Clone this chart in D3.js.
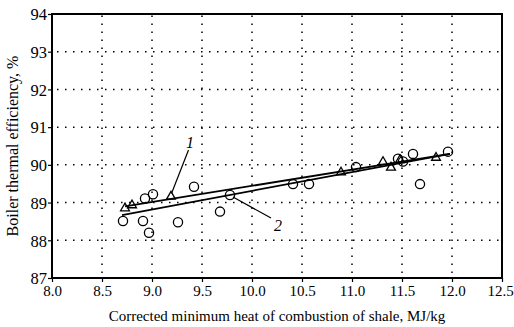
<!DOCTYPE html>
<html><head><meta charset="utf-8">
<script src="https://cdn.jsdelivr.net/npm/d3@7"></script>
<style>body{margin:0;background:#fff}svg{display:block}
svg text{font-family:"Liberation Serif","Times New Roman","DejaVu Serif",serif;}</style>
</head><body>
<svg id="c" width="514" height="327"></svg>
<script>
const xTicks = [8.0, 8.5, 9.0, 9.5, 10.0, 10.5, 11.0, 11.5, 12.0, 12.5];
const yTicks = [87, 88, 89, 90, 91, 92, 93, 94];
const circlesX = [8.71, 8.91, 8.93, 8.97, 9.01, 9.26, 9.42, 9.68, 9.78, 10.41, 10.57, 11.04, 11.46, 11.51, 11.61, 11.68, 11.96];
const circlesY = [88.51, 88.51, 89.11, 88.20, 89.22, 88.48, 89.42, 88.76, 89.20, 89.49, 89.49, 89.94, 90.16, 90.09, 90.29, 89.49, 90.35];
const trianglesX = [8.73, 8.80, 9.19, 10.89, 11.31, 11.39, 11.48, 11.84];
const trianglesY = [88.85, 88.93, 89.16, 89.80, 90.08, 89.93, 90.13, 90.19];
const line1X = [8.73, 11.98], line1Y = [88.90, 90.29];
const line2X = [8.70, 11.98], line2Y = [88.67, 90.29];

const svg = d3.select("#c");
const m = {l:52, r:12, t:14, b:49};
const W = 514, H = 327;
const x = d3.scaleLinear().domain([8, 12.5]).range([m.l, W - m.r]);
const y = d3.scaleLinear().domain([87, 94]).range([H - m.b, m.t]);
const font = '"Liberation Serif","Times New Roman","DejaVu Serif",serif';

// grid
const g = svg.append("g");
g.selectAll(".gx").data(xTicks.slice(1, -1)).join("line")
  .attr("x1", d => x(d)).attr("x2", d => x(d)).attr("y1", y(87)).attr("y2", y(94))
  .attr("stroke", "#000").attr("stroke-width", 1.5).attr("stroke-dasharray", "1.5,6.5").attr("stroke-dashoffset", 3);
g.selectAll(".gy").data(yTicks.slice(1, -1)).join("line")
  .attr("x1", x(8)).attr("x2", x(12.5)).attr("y1", d => y(d)).attr("y2", d => y(d))
  .attr("stroke", "#000").attr("stroke-width", 1.5).attr("stroke-dasharray", "1.5,6.5").attr("stroke-dashoffset", 3);

// axes
const xa = svg.append("g").attr("transform", `translate(0,${y(87)})`)
  .call(d3.axisBottom(x).tickValues(xTicks).tickFormat(d3.format(".1f")).tickSize(4).tickPadding(1));
const ya = svg.append("g").attr("transform", `translate(${x(8)},0)`)
  .call(d3.axisLeft(y).tickValues(yTicks).tickFormat(d3.format("d")).tickSize(4).tickPadding(1));
[xa, ya].forEach(a => {
  a.attr("font-family", null);
  a.select(".domain").remove();
  a.selectAll(".tick line").attr("stroke", "#000").attr("stroke-width", 1.2);
  a.selectAll("text").style("font-family", font).attr("fill", "#000");
});
xa.selectAll("text").attr("font-size", 15).attr("dy", "0.85em");
xa.selectAll("text").filter(d => d === 12.5).attr("dx", -2);
ya.selectAll("text").attr("font-size", 16.5).attr("dy", "0.35em");

// frame
svg.append("rect").attr("x", x(8)).attr("y", y(94)).attr("width", x(12.5) - x(8)).attr("height", y(87) - y(94))
  .attr("fill", "none").attr("stroke", "#000").attr("stroke-width", 2);

// fit lines
const lineGen = d3.line().x(d => x(d[0])).y(d => y(d[1]));
[[line1X, line1Y], [line2X, line2Y]].forEach(([lx, ly]) => {
  svg.append("path").datum(lx.map((v, i) => [v, ly[i]])).attr("d", lineGen)
    .attr("fill", "none").attr("stroke", "#000").attr("stroke-width", 1.8);
});

// circles
svg.selectAll(".c").data(circlesX.map((v, i) => [v, circlesY[i]])).join("circle")
  .attr("cx", d => x(d[0])).attr("cy", d => y(d[1])).attr("r", 4.6)
  .attr("fill", "none").attr("stroke", "#000").attr("stroke-width", 1.3);
// triangles
const tri = d3.symbol().type(d3.symbolTriangle).size(34);
svg.selectAll(".t").data(trianglesX.map((v, i) => [v, trianglesY[i]])).join("path")
  .attr("d", tri).attr("transform", d => `translate(${x(d[0])},${y(d[1])})`)
  .attr("fill", "none").attr("stroke", "#000").attr("stroke-width", 1.3);

// annotations
svg.append("line").attr("x1", 188.5).attr("y1", 150).attr("x2", x(9.19) + 0.5).attr("y2", y(89.16) - 3)
  .attr("stroke", "#000").attr("stroke-width", 1.2);
svg.append("text").attr("x", 190).attr("y", 148).attr("text-anchor", "middle")
  .style("font-family", font).attr("font-style", "italic").attr("font-size", 16).text("1");
svg.append("line").attr("x1", x(9.78) + 3).attr("y1", y(89.20) + 2).attr("x2", 271).attr("y2", 218)
  .attr("stroke", "#000").attr("stroke-width", 1.2);
svg.append("text").attr("x", 278).attr("y", 231).attr("text-anchor", "middle")
  .style("font-family", font).attr("font-style", "italic").attr("font-size", 16).text("2");

// titles
svg.append("text").attr("x", x(10.25)).attr("y", 321).attr("text-anchor", "middle")
  .style("font-family", font).attr("font-size", 15).text("Corrected minimum heat of combustion of shale, MJ/kg");
svg.append("text").attr("transform", `translate(18,${y(90.5)}) rotate(-90)`).attr("text-anchor", "middle")
  .style("font-family", font).attr("font-size", 16).text("Boiler thermal efficiency, %");
</script>
</body></html>
